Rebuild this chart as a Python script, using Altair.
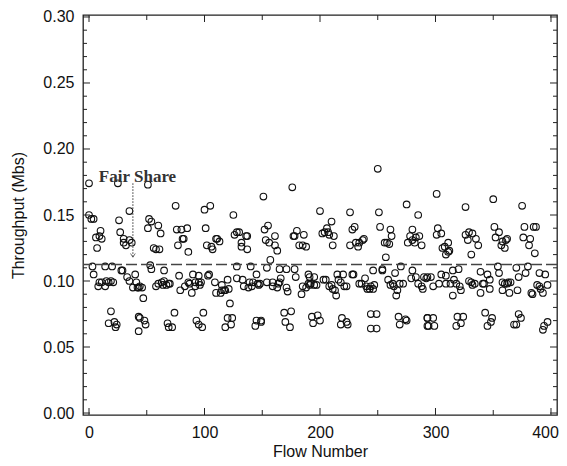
import altair as alt
import pandas as pd

# ---- data (flow number, throughput in Mbs) ----
upper_a = [(0,0.174),(0,0.150),(2,0.147),(4,0.147),(6,0.133),(9,0.134),(10,0.138),(11,0.132),(7,0.125),
           (26,0.146),(27,0.137),(30,0.132),(30,0.129),(32,0.127),(35,0.131),(37,0.129),(35,0.153),(25,0.174),
           (51,0.173),(52,0.147),(54,0.145),(51,0.140),(60,0.142),(62,0.136),(56,0.125),(58,0.124),(61,0.124),
           (75,0.157),(76,0.139),(80,0.139),(85,0.140),(81,0.132),(82,0.132),(77,0.127),(86,0.122)]
middle_a = [(3,0.111),(4,0.105),(8,0.096),(9,0.099),(11,0.099),(14,0.096),(15,0.100),(17,0.099),(19,0.100),
            (21,0.099),(14,0.111),(20,0.111),(28,0.108),(29,0.108),(33,0.103),(35,0.100),(40,0.105),(38,0.095),
            (41,0.099),(42,0.095),(43,0.095),(44,0.096),(46,0.095),(47,0.087),(53,0.112),(54,0.109),(58,0.096),
            (60,0.098),(63,0.099),(64,0.097),(65,0.100),(67,0.097),(69,0.098),(70,0.098),(65,0.108),(78,0.104),
            (79,0.093),(83,0.096),(86,0.099),(87,0.098)]
lower_a = [(19,0.077),(17,0.068),(22,0.069),(23,0.065),(24,0.067),(43,0.073),(44,0.072),(48,0.070),(49,0.067),
           (43,0.062),(68,0.068),(69,0.065),(72,0.065),(74,0.076)]

upper_b = [(100,0.154),(105,0.157),(101,0.140),(102,0.127),(106,0.126),(107,0.124),(110,0.132),(111,0.132),
           (113,0.130),(125,0.150),(126,0.135),(128,0.137),(130,0.137),(136,0.134),(137,0.134),(132,0.129),
           (132,0.126),(137,0.124),(151,0.164),(152,0.139),(155,0.142),(153,0.131),(156,0.129),(161,0.134),
           (161,0.127),(163,0.123),(176,0.171),(177,0.134),(178,0.134),(180,0.138),(186,0.135),(182,0.127),
           (185,0.127),(188,0.126)]
middle_b = [(89,0.091),(90,0.105),(92,0.099),(92,0.096),(95,0.104),(95,0.099),(97,0.099),(96,0.097),(103,0.104),
            (104,0.105),(109,0.099),(110,0.091),(114,0.091),(115,0.097),(115,0.093),(117,0.093),(118,0.093),
            (120,0.101),(121,0.094),(128,0.111),(128,0.102),(133,0.101),(134,0.096),(138,0.095),(139,0.099),
            (140,0.111),(141,0.096),(142,0.099),(145,0.105),(146,0.098),(147,0.097),(148,0.098),(154,0.099),
            (154,0.110),(157,0.116),(159,0.096),(159,0.099),(163,0.095),(165,0.109),(164,0.098),(166,0.102),
            (165,0.099),(171,0.109),(171,0.095),(172,0.092),(178,0.109),(179,0.103),(184,0.090),(185,0.096),
            (190,0.105),(190,0.098),(188,0.095),(122,0.083)]
lower_b = [(99,0.076),(93,0.070),(95,0.067),(98,0.065),(120,0.072),(124,0.072),(123,0.067),(118,0.065),
           (145,0.070),(149,0.070),(149,0.069),(144,0.066),(169,0.076),(175,0.077),(170,0.069),(174,0.065)]

upper_c = [(200,0.153),(210,0.145),(202,0.136),(204,0.137),(206,0.140),(207,0.137),(208,0.135),(212,0.134),
           (211,0.127),(226,0.152),(228,0.139),(230,0.141),(226,0.127),(231,0.129),(233,0.126),(234,0.129),
           (237,0.131),(238,0.132),(250,0.185),(251,0.152),(252,0.141),(256,0.129),(258,0.129),(260,0.128),
           (261,0.139),(262,0.134),(257,0.118),(275,0.158),(285,0.150),(280,0.139),(278,0.134),(280,0.131),
           (283,0.133),(286,0.134),(276,0.129),(282,0.129),(288,0.127)]
middle_c = [(191,0.103),(195,0.103),(191,0.097),(192,0.098),(195,0.097),(197,0.097),(203,0.101),(205,0.101),
            (208,0.096),(210,0.097),(211,0.094),(214,0.089),(213,0.093),(215,0.105),(216,0.101),(218,0.099),
            (220,0.105),(221,0.096),(223,0.096),(228,0.105),(229,0.105),(234,0.098),(236,0.098),(239,0.102),
            (240,0.096),(241,0.094),(243,0.094),(244,0.096),(246,0.094),(247,0.097),(246,0.108),(254,0.109),
            (254,0.108),(259,0.101),(261,0.097),(263,0.098),(264,0.096),(266,0.089),(267,0.093),(265,0.106),
            (270,0.111),(272,0.098),(269,0.098),(279,0.102),(280,0.108),(283,0.103),(285,0.098),(288,0.096),
            (289,0.094),(290,0.103),(292,0.102),(293,0.103)]
lower_c = [(193,0.073),(198,0.074),(194,0.068),(200,0.070),(219,0.072),(218,0.067),(223,0.069),(224,0.067),
           (244,0.075),(249,0.075),(244,0.064),(249,0.064),(268,0.073),(274,0.071),(269,0.067),(275,0.070),
           (293,0.072),(293,0.066)]

upper_d = [(301,0.166),(302,0.140),(301,0.135),(305,0.136),(306,0.125),(308,0.126),(311,0.129),(312,0.123),
           (309,0.120),(311,0.122),(326,0.156),(326,0.135),(329,0.137),(332,0.136),(328,0.131),(335,0.132),
           (337,0.127),(331,0.120),(350,0.162),(351,0.141),(355,0.137),(352,0.133),(357,0.127),(358,0.130),
           (361,0.131),(362,0.132),(360,0.125),(375,0.157),(377,0.141),(385,0.141),(387,0.141),(376,0.133),
           (382,0.132),(381,0.127),(386,0.121)]
middle_d = [(296,0.103),(298,0.096),(303,0.098),(305,0.105),(309,0.104),(309,0.098),(315,0.108),(320,0.109),
            (316,0.101),(318,0.098),(313,0.098),(315,0.089),(322,0.093),(321,0.096),(329,0.100),(331,0.099),
            (332,0.097),(334,0.098),(339,0.107),(341,0.098),(342,0.098),(339,0.091),(345,0.105),(347,0.101),
            (347,0.094),(354,0.111),(355,0.106),(358,0.099),(360,0.098),(362,0.098),(363,0.099),(365,0.099),
            (364,0.091),(370,0.110),(372,0.103),(371,0.093),(358,0.093),(378,0.106),(380,0.111),(383,0.091),
            (384,0.090),(388,0.097),(390,0.096),(391,0.094),(393,0.091),(390,0.106),(395,0.105),(397,0.097)]
lower_d = [(293,0.072),(298,0.072),(294,0.066),(299,0.066),(319,0.073),(324,0.073),(318,0.066),(322,0.068),
           (343,0.076),(349,0.072),(348,0.069),(345,0.066),(372,0.075),(374,0.072),(368,0.067),(370,0.067),
           (397,0.069),(394,0.066),(393,0.063)]

fair_share = 0.1125
arrow_flow = 38
arrow_top, arrow_bottom = 0.174, 0.118
label_text = "Fair Share"
label_pos = (42, 0.179)

y_major = [0.00, 0.05, 0.10, 0.15, 0.20, 0.25, 0.30]
y_minor = [round(i * 0.01, 2) for i in range(31) if i % 5 != 0]
x_major = [0, 100, 200, 300, 400]
x_minor = [50, 150, 250, 350]

# ---- build ----
all_pts = upper_a + middle_a + lower_a + upper_b + middle_b + lower_b + \
          upper_c + middle_c + lower_c + upper_d + middle_d + lower_d
pts = pd.DataFrame(all_pts, columns=["flow", "tp"])

W, H = 474, 400
xs = alt.Scale(domain=[-5.2, 405.2], nice=False, zero=False)
ys = alt.Scale(domain=[-0.0015, 0.3015], nice=False, zero=False)
FONT = "Liberation Sans"

x_axis = alt.Axis(values=x_major, title="Flow Number", labelPadding=9,
                  labelOffset={"expr": "datum.value == 400 ? -6 : 0"},
                  titleX=W / 2, titleY=36, titleBaseline="middle", titleAlign="center")
y_axis = alt.Axis(values=y_major, format=".2f", title="Throughput (Mbs)", labelPadding=9,
                  titleX=-65, titleY=H / 2, titleBaseline="middle", titleAlign="center",
                  titleAngle=270)

def X(field):
    return alt.X(field, type="quantitative", scale=xs, axis=x_axis)

def Y(field):
    return alt.Y(field, type="quantitative", scale=ys, axis=y_axis)

points = alt.Chart(pts).mark_point(shape="circle", filled=False, color="#111",
                                   size=44, strokeWidth=1.1, opacity=1).encode(
    x=X("flow"), y=Y("tp"))

fs_df = pd.DataFrame({"tp": [fair_share]})
fair = alt.Chart(fs_df).mark_rule(color="#444", strokeWidth=1.3, strokeDash=[11, 4]).encode(
    y=Y("tp"))

arr_df = pd.DataFrame({"flow": [arrow_flow], "tp": [arrow_top], "tp2": [arrow_bottom]})
arrow = alt.Chart(arr_df).mark_rule(color="#333", strokeWidth=1, strokeDash=[1.5, 1.5]).encode(
    x=X("flow"), y=Y("tp"), y2="tp2:Q")
head = alt.Chart(arr_df).mark_point(shape="M-1,-1.6L0,0L1,-1.6", filled=False, color="#333",
                                    size=22, strokeWidth=1).encode(
    x=X("flow"), y=Y("tp2"))

lab_df = pd.DataFrame({"flow": [label_pos[0]], "tp": [label_pos[1]], "t": [label_text]})
label = alt.Chart(lab_df).mark_text(font="Liberation Serif", fontWeight="bold", fontSize=17,
                                    color="#333", baseline="middle", align="center").encode(
    x=X("flow"), y=Y("tp"), text="t:N")

def yticks(vals, length, side):
    d = pd.DataFrame({"tp": vals})
    if side == "left":
        xa, xb = 0, length
    else:
        xa, xb = W - length, W
    return alt.Chart(d).mark_rule(color="#222", strokeWidth=1).encode(
        y=Y("tp"), x=alt.value(xa), x2=alt.value(xb))

def xticks(vals, length, side):
    d = pd.DataFrame({"flow": vals})
    if side == "bottom":
        ya, yb = H, H - length
    else:
        ya, yb = 0, length
    return alt.Chart(d).mark_rule(color="#222", strokeWidth=1).encode(
        x=X("flow"), y=alt.value(ya), y2=alt.value(yb))

ticks = [yticks(y_major, 7, "left"), yticks(y_minor, 4, "left"),
         yticks(y_major, 7, "right"), yticks(y_minor, 4, "right"),
         xticks(x_major, 7, "bottom"), xticks(x_minor, 5, "bottom"),
         xticks(x_major, 7, "top"), xticks(x_minor, 5, "top")]

chart = alt.layer(points, fair, arrow, head, label, *ticks).properties(
    width=W, height=H, autosize="none",
    padding={"left": 75, "top": 7, "right": 2, "bottom": 43},
    background="white",
).configure_view(stroke="#222", strokeWidth=1.3).configure_axis(
    grid=False, domain=False, ticks=False,
    labelFont=FONT, labelFontSize=16, labelColor="#111",
    titleFont=FONT, titleFontSize=16, titleFontWeight="normal", titleColor="#111",
)

chart.save("out.html", embed_options={"renderer": "svg", "actions": False})
